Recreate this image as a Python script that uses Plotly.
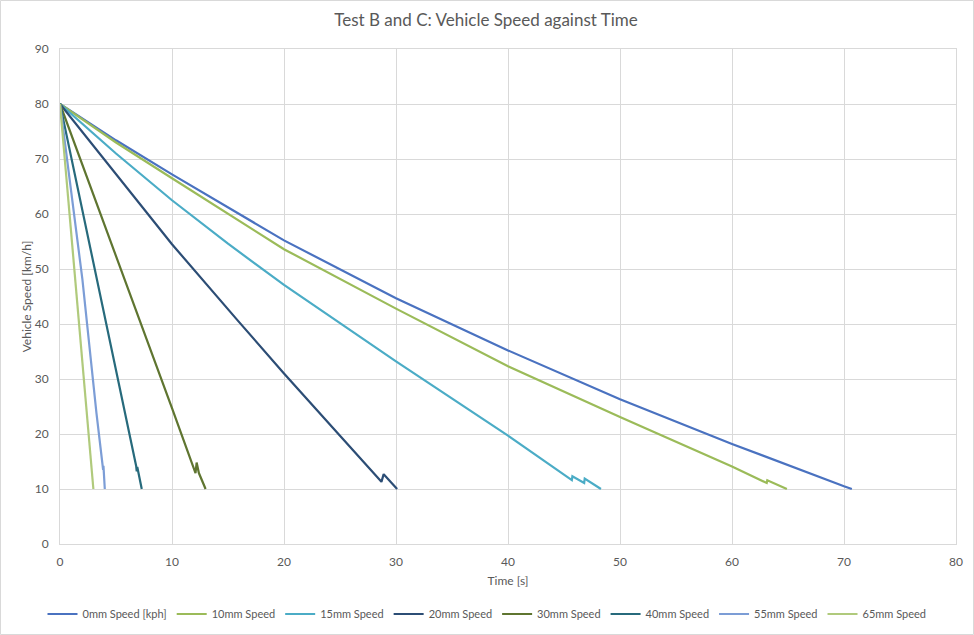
import plotly.graph_objects as go

# ---- data ----
series_names = ["0mm Speed [kph]", "10mm Speed", "15mm Speed", "20mm Speed",
                "30mm Speed", "40mm Speed", "55mm Speed", "65mm Speed"]

t_0mm = [0, 5, 10, 20, 30, 40, 50, 60, 70, 70.7]
v_0mm = [80, 73.4, 67.2, 55.2, 44.7, 35.2, 26.3, 18.2, 10.5, 10]

t_10mm = [0, 5, 10, 20, 30, 40, 50, 60, 63.1, 63.15, 64.9]
v_10mm = [80, 73.0, 66.5, 53.6, 42.8, 32.3, 23.1, 14.1, 11.1, 11.6, 10]

t_15mm = [0, 5, 10, 15, 20, 30, 40, 45.7, 45.75, 46.8, 46.85, 48.3]
v_15mm = [80, 71.0, 62.5, 54.6, 47.1, 33.2, 19.7, 11.6, 12.3, 11.1, 11.9, 10]

t_20mm = [0, 5, 10, 15.8, 20, 25, 28.7, 28.9, 30.1]
v_20mm = [80, 67.3, 54.5, 40.8, 31.0, 19.7, 11.3, 12.7, 10]

t_30mm = [0, 3, 6.1, 10, 12.1, 12.2, 12.4, 13.0]
v_30mm = [80, 63.5, 46.3, 24.7, 12.9, 14.8, 12.9, 10]

t_40mm = [0, 3.3, 5.2, 6.8, 6.85, 6.9, 7.3]
v_40mm = [80, 48.3, 29.9, 14.2, 13.2, 14.0, 10]

t_55mm = [0, 2.0, 3.25, 3.85, 3.88, 4.0]
v_55mm = [80, 48.1, 23.9, 13.5, 14.2, 10]

t_65mm = [0, 1.34, 2.38, 2.98]
v_65mm = [80, 48.1, 23.9, 10]

x_ticks = [0, 10, 20, 30, 40, 50, 60, 70, 80]
y_ticks = [0, 10, 20, 30, 40, 50, 60, 70, 80, 90]

colors = ["#4A72C0", "#9BBB59", "#4BACC6", "#2C4D75",
          "#5F7530", "#276A7C", "#7C9DD6", "#B0CA7C"]

times = [t_0mm, t_10mm, t_15mm, t_20mm, t_30mm, t_40mm, t_55mm, t_65mm]
speeds = [v_0mm, v_10mm, v_15mm, v_20mm, v_30mm, v_40mm, v_55mm, v_65mm]

FONT = "Lato, 'Open Sans', sans-serif"
TXT = "#595959"
GRID = "#D9D9D9"

fig = go.Figure()
for name, t, v, c in zip(series_names, times, speeds, colors):
    fig.add_trace(go.Scatter(x=t, y=v, mode="lines", name=name,
                             line=dict(color=c, width=2.2)))

fig.update_layout(
    width=974, height=635,
    paper_bgcolor="white", plot_bgcolor="white",
    margin=dict(l=60, r=18, t=49, b=91, autoexpand=False),
    title=dict(text="Test B and C: Vehicle Speed against Time",
               xref="container", x=0.499, xanchor="center",
               yref="container", y=1 - 20 / 635, yanchor="middle",
               font=dict(family=FONT, size=17, color=TXT)),
    font=dict(family=FONT, size=12, color=TXT),
    showlegend=True,
    legend=dict(orientation="h", xref="container", x=0.5, xanchor="center",
                yref="container", y=1 - 614 / 635, yanchor="middle",
                font=dict(family=FONT, size=11, color=TXT),
                itemwidth=30, tracegroupgap=0, bgcolor="rgba(0,0,0,0)"),
    xaxis=dict(range=[0, 80], tickvals=x_ticks, showgrid=True, gridcolor=GRID,
               gridwidth=1, zeroline=False, showline=True, linecolor=GRID,
               mirror=True, ticks="", tickfont=dict(size=12, color=TXT),
               ticklabelstandoff=7,
               title=dict(text="Time [s]", font=dict(size=12, color=TXT), standoff=8)),
    yaxis=dict(range=[0, 90], tickvals=y_ticks, showgrid=True, gridcolor=GRID,
               gridwidth=1, zeroline=False, showline=True, linecolor=GRID,
               mirror=True, ticks="", tickfont=dict(size=12, color=TXT),
               ticklabelstandoff=8,
               title=dict(text="Vehicle Speed [km/h]", font=dict(size=12, color=TXT),
                          standoff=0)),
)

# outer chart border
fig.add_shape(type="rect", xref="paper", yref="paper",
              x0=-59.5 / 896, x1=1 + 17.5 / 896, y0=-90.5 / 495, y1=1 + 48.5 / 495,
              line=dict(color="#D9D9D9", width=1), fillcolor="rgba(0,0,0,0)", layer="below")

fig.write_html("out.html", config={"displayModeBar": False},
               post_script="document.body.style.margin='0';document.body.style.padding='0';")
